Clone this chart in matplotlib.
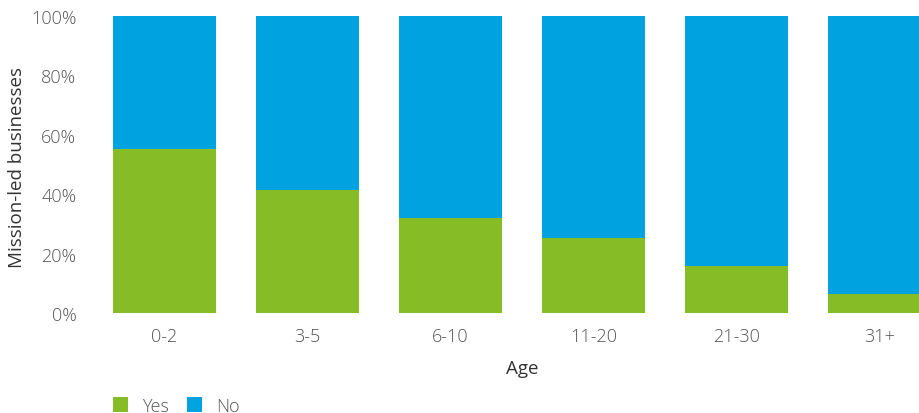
import matplotlib.pyplot as plt
import numpy as np

plt.rcParams['font.family'] = ['Open Sans', 'DejaVu Sans']

ages = ['0-2', '3-5', '6-10', '11-20', '21-30', '31+']
yes = np.array([55.2, 41.4, 32.0, 25.3, 15.8, 6.4])
no = 100 - yes

green = '#86BC25'
blue = '#00A3E0'
txt = '#555555'

fig = plt.figure(figsize=(9.2, 4.14), dpi=100)
ax = fig.add_axes([93 / 920, 100 / 414, 858 / 920, 297 / 414])

x = np.arange(len(ages))
ax.bar(x, yes, width=0.72, color=green, label='Yes')
ax.bar(x, no, width=0.72, bottom=yes, color=blue, label='No')

ax.set_xlim(-0.5, 5.5)
ax.set_ylim(0, 100)
ax.set_yticks(np.arange(0, 101, 20))
ax.set_yticklabels([f'{v}%' for v in range(0, 101, 20)])
ax.set_xticks(x)
ax.set_xticklabels(ages)
ax.tick_params(length=0, labelsize=13, colors=txt)
ax.tick_params(axis='x', pad=10)
ax.tick_params(axis='y', pad=12)
for lab in ax.get_xticklabels() + ax.get_yticklabels():
    lab.set_fontweight('light')
for s in ax.spines.values():
    s.set_visible(False)

ax.set_xlabel('Age', fontsize=13.5, color='#333333', labelpad=10)
fig.text(17 / 920, 1 - 168 / 414, 'Mission-led businesses', rotation=90,
         ha='center', va='center', fontsize=13.5, color='#333333')

ax.legend(loc='upper left', bbox_to_anchor=(0.015, -0.258), ncol=2, frameon=False,
          handlelength=0.85, handleheight=0.85, handletextpad=0.75,
          columnspacing=1.0, labelcolor=txt, borderaxespad=0,
          prop={'weight': 'light', 'size': 13})

fig.savefig('out.png', dpi=100)
